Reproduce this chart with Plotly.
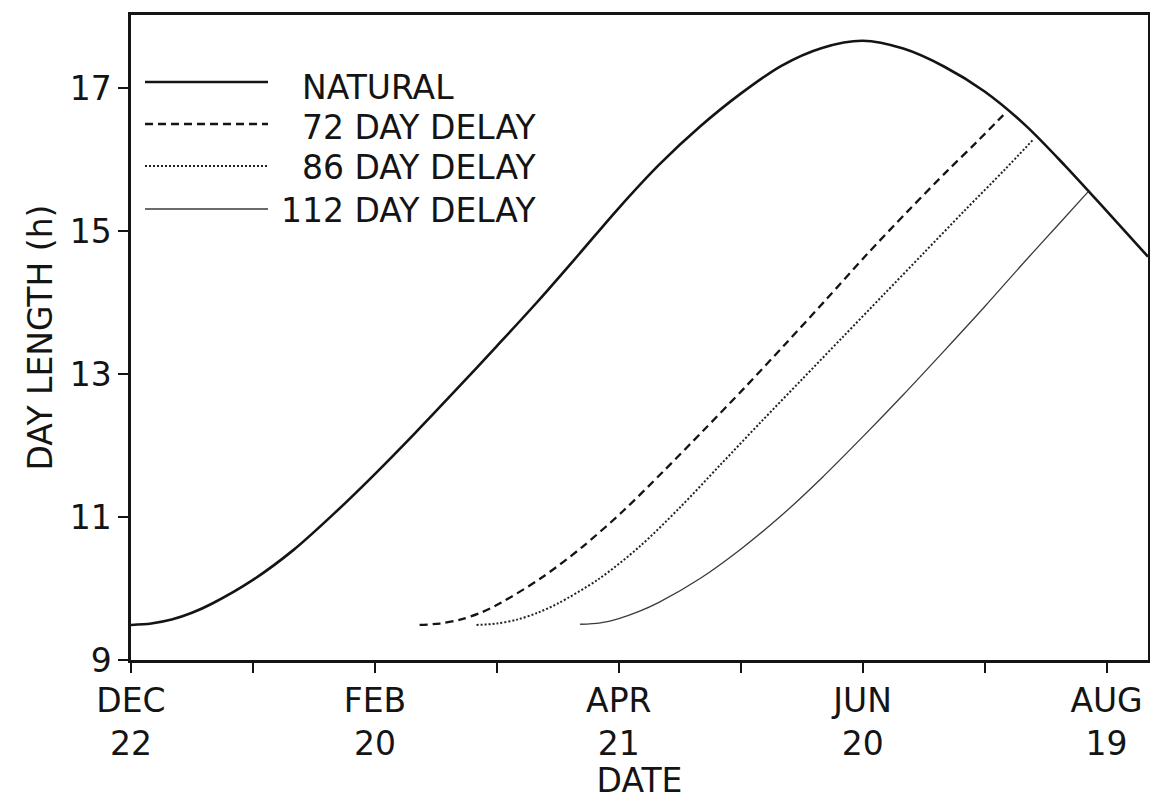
import plotly.graph_objects as go

# ---- data (days after Dec 22, day length in hours) ----
natural_day = [0, 5, 10, 15, 20, 30, 40, 50, 60, 70, 80, 90, 100, 110, 120, 130, 140, 150,
               160, 170, 180, 190, 200, 210, 220, 230, 240, 250.2]
natural_h = [9.49, 9.51, 9.565, 9.66, 9.79, 10.12, 10.54, 11.05, 11.60, 12.18, 12.78, 13.39,
             14.01, 14.66, 15.32, 15.93, 16.46, 16.92, 17.31, 17.56, 17.66, 17.55, 17.30,
             16.95, 16.48, 15.90, 15.28, 14.64]

d72_day = [71, 76, 81, 86, 91, 101, 111, 121, 131, 141, 151, 161, 171, 181, 191, 201, 208,
           214.6]
d72_h = [9.49, 9.51, 9.565, 9.66, 9.80, 10.15, 10.58, 11.08, 11.64, 12.22, 12.81, 13.42,
         14.04, 14.67, 15.27, 15.85, 16.24, 16.62]

d86_day = [85, 90, 95, 100, 105, 115, 125, 135, 145, 155, 165, 175, 185, 195, 205, 215, 222]
d86_h = [9.49, 9.51, 9.565, 9.66, 9.79, 10.13, 10.58, 11.13, 11.73, 12.33, 12.92, 13.51,
         14.10, 14.69, 15.28, 15.86, 16.28]

d112_day = [110.5, 115.5, 120, 125, 130, 140, 150, 160, 170, 180, 190, 200, 210, 220, 228,
            235.5]
d112_h = [9.50, 9.52, 9.58, 9.68, 9.81, 10.14, 10.55, 11.02, 11.55, 12.12, 12.71, 13.32,
          13.94, 14.58, 15.08, 15.55]

series_names = ["NATURAL", "72 DAY DELAY", "86 DAY DELAY", "112 DAY DELAY"]

x_tickvals = [0, 30, 60, 90, 120, 150, 180, 210, 240]
x_ticktext = ["DEC<br>22", "", "FEB<br>20", "", "APR<br>21", "", "JUN<br>20", "", "AUG<br>19"]
y_tickvals = [9, 11, 13, 15, 17]
y_ticktext = ["9", "11", "13", "15", "17"]

FONT = "DejaVu Sans"
FS = 33
INK = "#141414"

styles = [
    dict(color=INK, width=2.6, dash="solid"),
    dict(color=INK, width=2.3, dash="8px,5px"),
    dict(color="#222222", width=2.0, dash="2px,2px"),
    dict(color="#3a3a3a", width=1.3, dash="solid"),
]

fig = go.Figure()
for name, xs, ys, st in zip(series_names,
                            [natural_day, d72_day, d86_day, d112_day],
                            [natural_h, d72_h, d86_h, d112_h],
                            styles):
    fig.add_trace(go.Scatter(x=xs, y=ys, mode="lines", name=name,
                             line=dict(shape="spline", smoothing=0.9, **st),
                             showlegend=False))

# ---- hand-built legend (long line samples as in the original) ----
W, H = 1150, 800
L, R, T, B = 131, 2, 15, 140
pw, ph = W - L - R, H - T - B

def px(xp):
    return (xp - L) / pw

def py(yp):
    return (H - B - yp) / ph

leg_rows_y = [82, 124, 166, 209]
leg_text_y = [88, 128, 168, 210]
leg_text_x = [300, 300, 300, 279]
for i, name in enumerate(series_names):
    st = styles[i]
    fig.add_shape(type="line", xref="paper", yref="paper",
                  x0=px(145), x1=px(268), y0=py(leg_rows_y[i]), y1=py(leg_rows_y[i]),
                  line=dict(color=st["color"], width=st["width"], dash=st["dash"]))
    fig.add_annotation(xref="paper", yref="paper", x=px(leg_text_x[i]), y=py(leg_text_y[i]),
                       text=name, showarrow=False, xanchor="left", yanchor="middle",
                       font=dict(family=FONT, size=FS, color=INK))

fig.update_layout(
    width=W, height=H,
    margin=dict(l=L, r=R, t=T, b=B, pad=0),
    paper_bgcolor="white", plot_bgcolor="white",
    font=dict(family=FONT, size=FS, color=INK),
    xaxis=dict(range=[0, 250.2], tickmode="array", tickvals=x_tickvals, ticktext=x_ticktext,
               ticks="outside", ticklen=10, tickwidth=2, tickcolor=INK,
               showline=True, linecolor=INK, linewidth=2.5, mirror=True,
               showgrid=False, zeroline=False,
               tickfont=dict(family=FONT, size=FS, color=INK),
               title=dict(text="DATE", font=dict(family=FONT, size=FS, color=INK), standoff=2),
               automargin=False),
    yaxis=dict(range=[9, 18.02], tickmode="array", tickvals=y_tickvals, ticktext=y_ticktext,
               ticks="outside", ticklen=10, tickwidth=2, tickcolor=INK,
               showline=True, linecolor=INK, linewidth=2.5, mirror=True,
               showgrid=False, zeroline=False,
               tickfont=dict(family=FONT, size=FS, color=INK),
               title=dict(text="DAY LENGTH (h)", font=dict(family=FONT, size=FS, color=INK),
                          standoff=8),
               automargin=False),
)

fig.write_html("out.html")
